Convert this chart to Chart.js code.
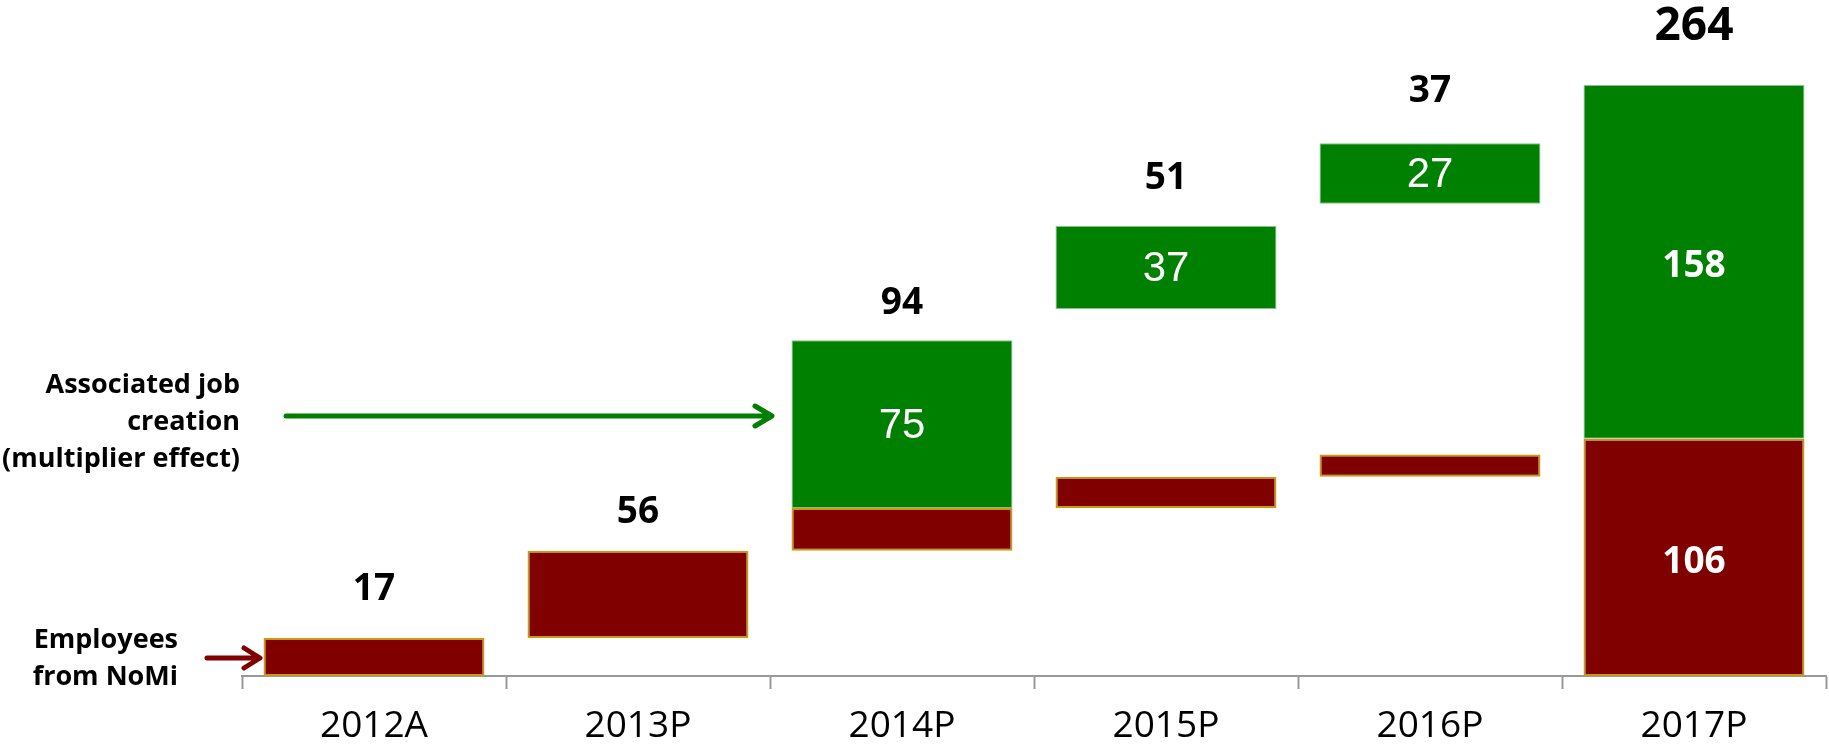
<!DOCTYPE html>
<html>
<head>
<meta charset="utf-8">
<script src="https://cdn.jsdelivr.net/npm/chart.js@4"></script>
<style>
  html, body { margin: 0; padding: 0; background: #fff; }
  #wrap { width: 1829px; height: 749px; position: relative; }
</style>
</head>
<body>
<div id="wrap"><canvas id="chart"></canvas></div>
<script>
// categories and bar ranges (employees from NoMi = red, associated jobs = green)
const categories = ['2012A', '2013P', '2014P', '2015P', '2016P', '2017P'];
const employeesFrom = [0, 17, 56, 75, 89, 0];
const employeesTo = [17, 56, 75, 89, 99, 106];
const jobsFrom = [null, null, 75, 164, 211, 106];
const jobsTo = [null, null, 150, 201, 238, 264];

// text shown on the chart
const stepLabels = ['17', '56', '94', '51', '37', '264'];
const jobsLabels = [null, null, '75', '37', '27', '158'];
const employeesLabels = [null, null, null, null, null, '106'];

const yMax = 302;

// gap (px) between the top of a column and its step label
const labelGaps = [48, 38, 37, 48, 52, 58];

const RED = '#800000';
const GREEN = '#008000';

function ranges(from, to) {
    return from.map((f, i) => (f === null ? null : [f, to[i]]));
}

const annotations = {
    id: 'annotations',
    afterDatasetsDraw(chart) {
        const ctx = chart.ctx;
        const x = chart.scales.x;
        const y = chart.scales.y;
        ctx.save();
        ctx.textAlign = 'center';
        ctx.textBaseline = 'middle';

        // step labels above each column
        stepLabels.forEach((txt, i) => {
            const top = Math.max(employeesTo[i], jobsTo[i] || 0);
            ctx.fillStyle = '#000';
            ctx.font = (i === 5 ? 'bold 46px' : 'bold 37px') + ' "Open Sans"';
            ctx.fillText(txt, x.getPixelForValue(i), y.getPixelForValue(top) - labelGaps[i]);
        });

        // values inside the bars
        jobsLabels.forEach((txt, i) => {
            if (!txt) return;
            const mid = (y.getPixelForValue(jobsFrom[i]) + y.getPixelForValue(jobsTo[i])) / 2;
            ctx.fillStyle = '#fff';
            ctx.font = i === 5 ? 'bold 37px "Open Sans"' : '42px "Liberation Sans"';
            ctx.fillText(txt, x.getPixelForValue(i), mid + (i === 5 ? 5 : 2));
        });
        employeesLabels.forEach((txt, i) => {
            if (!txt) return;
            const mid = (y.getPixelForValue(employeesFrom[i]) + y.getPixelForValue(employeesTo[i])) / 2;
            ctx.fillStyle = '#fff';
            ctx.font = 'bold 37px "Open Sans"';
            ctx.fillText(txt, x.getPixelForValue(i), mid + 5);
        });

        // side notes
        ctx.fillStyle = '#000';
        ctx.textAlign = 'right';
        ctx.font = 'bold 27px "Open Sans"';
        ctx.fillText('Associated job', 240, 385);
        ctx.fillText('creation', 240, 422);
        ctx.fillText('(multiplier effect)', 240, 459);
        ctx.fillText('Employees', 178, 640);
        ctx.fillText('from NoMi', 178, 677);

        // arrows
        ctx.lineCap = 'round';
        ctx.lineJoin = 'round';
        ctx.lineWidth = 5;
        ctx.strokeStyle = GREEN;
        ctx.beginPath();
        ctx.moveTo(286, 416); ctx.lineTo(771, 416);
        ctx.moveTo(755, 406); ctx.lineTo(772, 416); ctx.lineTo(755, 426);
        ctx.stroke();
        ctx.strokeStyle = RED;
        ctx.beginPath();
        ctx.moveTo(207, 658); ctx.lineTo(259, 658);
        ctx.moveTo(244, 648); ctx.lineTo(260, 658); ctx.lineTo(244, 668);
        ctx.stroke();
        ctx.restore();
    }
};

new Chart(document.getElementById('chart'), {
    type: 'bar',
    data: {
        labels: categories,
        datasets: [
            {
                label: 'Employees from NoMi',
                data: ranges(employeesFrom, employeesTo),
                backgroundColor: RED,
                borderColor: '#C89A10',
                borderWidth: 2,
                borderSkipped: false,
                grouped: false,
                barPercentage: 0.837,
                categoryPercentage: 1
            },
            {
                label: 'Associated job creation',
                data: ranges(jobsFrom, jobsTo),
                backgroundColor: GREEN,
                borderColor: '#8DBF8D',
                borderWidth: 1,
                borderSkipped: false,
                grouped: false,
                barPercentage: 0.837,
                categoryPercentage: 1
            }
        ]
    },
    options: {
        responsive: true,
        maintainAspectRatio: false,
        animation: false,
        layout: { padding: { left: 242, right: 3, top: 0, bottom: 0 } },
        plugins: {
            legend: { display: false },
            tooltip: { enabled: false }
        },
        scales: {
            x: {
                grid: {
                    display: true,
                    offset: true,
                    drawOnChartArea: false,
                    drawTicks: true,
                    tickLength: 13,
                    tickWidth: 2,
                    tickColor: '#999'
                },
                border: { display: true, color: '#999', width: 2 },
                ticks: {
                    color: '#000',
                    font: { family: '"Open Sans"', size: 37 },
                    padding: 15,
                    maxRotation: 0
                },
                afterFit(scale) { scale.height = 73; }
            },
            y: {
                display: false,
                min: 0,
                max: yMax
            }
        }
    },
    plugins: [annotations]
});
</script>
</body>
</html>
